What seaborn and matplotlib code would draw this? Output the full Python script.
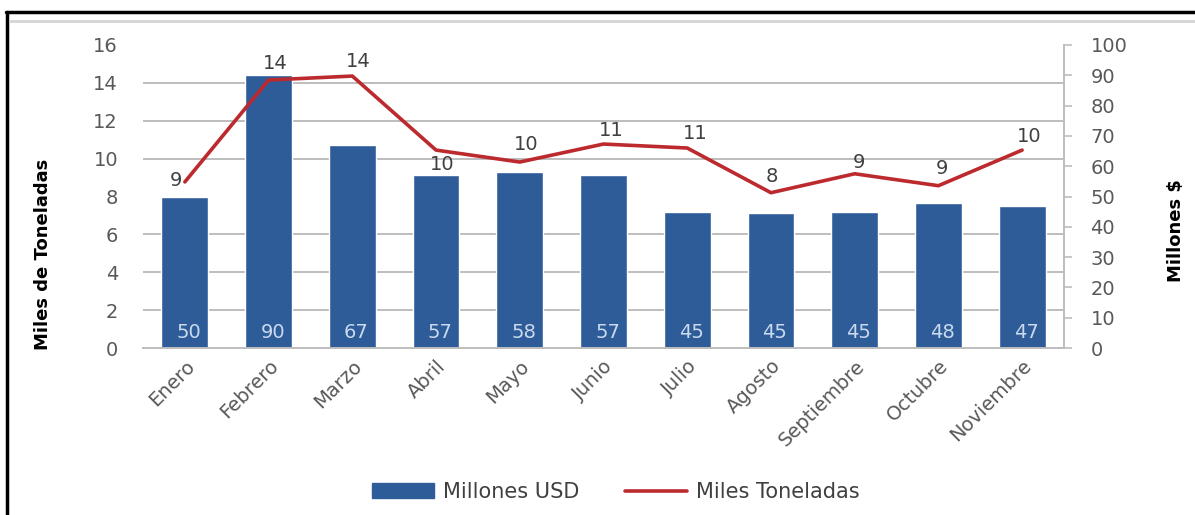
import matplotlib
matplotlib.use('Agg')
import matplotlib.pyplot as plt
import seaborn as sns
from matplotlib.ticker import MultipleLocator
from matplotlib.lines import Line2D
from matplotlib.patches import Patch

meses = ['Enero', 'Febrero', 'Marzo', 'Abril', 'Mayo', 'Junio', 'Julio',
         'Agosto', 'Septiembre', 'Octubre', 'Noviembre']
millones_usd = [50, 90, 67, 57, 58, 57, 45, 44.6, 45, 48, 47]
miles_ton = [8.77, 14.15, 14.36, 10.45, 9.82, 10.77, 10.56, 8.2, 9.2, 8.57, 10.45]

# where excel put the line labels (pixels from the point)
label_offsets = [(-9, 1), (7, 17), (6, 15), (6, -14), (6, 18), (8, 14),
                 (8, 15), (1, 16), (4, 11), (4, 17), (7, 14)]

bar_color = '#2E5C98'
line_color = '#BC2A2E'
tick_color = '#595959'

sns.set_style('white')
plt.rcParams['font.family'] = ['DejaVu Sans']

fig = plt.figure(figsize=(11.95, 5.15), dpi=100)
ax = fig.add_axes([143 / 1195, 1 - 348 / 515, 921 / 1195, 303 / 515])
ax2 = ax.twinx()

sns.barplot(x=meses, y=millones_usd, ax=ax2, color=bar_color, width=0.56,
            saturation=1, errorbar=None, zorder=2)
sns.pointplot(x=meses, y=miles_ton, ax=ax, color=line_color, markers='',
              linewidth=2.6, errorbar=None)

ax.set_zorder(ax2.get_zorder() + 1)
ax.patch.set_visible(False)

ax.set_xlim(-0.5, len(meses) - 0.5)
ax.set_ylim(0, 16)
ax.set_yticks(range(0, 17, 2))
ax2.set_ylim(0, 100)
ax2.set_yticks(range(0, 101, 10))

# gridlines follow the left axis, drawn behind the bars
ax2.yaxis.set_minor_locator(MultipleLocator(12.5))
ax2.set_axisbelow(True)
ax2.grid(which='minor', axis='y', color='#BDBDBD', lw=1.4)
ax2.grid(which='major', visible=False)
ax.grid(False)

for s in ['top', 'left', 'right']:
    ax.spines[s].set_visible(False)
ax.spines['bottom'].set_color('#BDBDBD')
ax.spines['bottom'].set_linewidth(1.4)
for s in ['top', 'left', 'bottom']:
    ax2.spines[s].set_visible(False)
ax2.spines['right'].set_color('#BDBDBD')
ax2.spines['right'].set_linewidth(1.4)

ax.tick_params(axis='y', length=0, pad=18, labelsize=14, labelcolor=tick_color)
ax.tick_params(axis='x', length=0, pad=6, labelsize=14, labelcolor=tick_color)
ax2.tick_params(axis='y', which='major', length=6, width=1.2, color='#BDBDBD',
                direction='out', pad=13, labelsize=14, labelcolor=tick_color)
ax2.tick_params(axis='y', which='minor', length=0)

ax.set_xticks(range(len(meses)))
ax.set_xticklabels(meses, rotation=45, ha='right', rotation_mode='anchor')
ax.set_xlabel('')
ax2.set_xlabel('')

ax.set_ylabel('Miles de Toneladas', fontsize=13, fontweight='bold', color='black')
ax.yaxis.set_label_coords(-0.099, 0.31)
ax2.set_ylabel('Millones $', fontsize=13, fontweight='bold', color='black')
ax2.yaxis.set_label_coords(1.112, 0.386)

for i, v in enumerate(millones_usd):
    ax2.annotate(f'{v:.0f}', (i, 0), xytext=(4, 15), textcoords='offset pixels',
                 ha='center', va='center', color='#C9D9EE', fontsize=14)

for i, v in enumerate(miles_ton):
    dx, dy = label_offsets[i]
    ax.annotate(f'{round(v)}', (i, v), xytext=(dx, dy), textcoords='offset pixels',
                ha='center', va='center', color='#404040', fontsize=14)

handles = [Patch(color=bar_color, label='Millones USD'),
           Line2D([], [], color=line_color, lw=2.6, label='Miles Toneladas')]
fig.legend(handles=handles, loc='center', bbox_to_anchor=(0.515, 1 - 492 / 515),
           ncol=2, frameon=False, fontsize=15, handlelength=3.0, handletextpad=0.4,
           columnspacing=2.2, labelcolor='#404040')

# outer frame of the picture
fig.add_artist(Line2D([6 / 1195, 1], [1 - 12 / 515] * 2, color='black', lw=2.5,
                      transform=fig.transFigure))
fig.add_artist(Line2D([7 / 1195] * 2, [0, 1 - 12 / 515], color='black', lw=2.5,
                      transform=fig.transFigure))
fig.add_artist(Line2D([10 / 1195, 1], [1 - 21 / 515] * 2, color='#D4D4D4', lw=2,
                      transform=fig.transFigure))

fig.savefig('out.png', dpi=100)
